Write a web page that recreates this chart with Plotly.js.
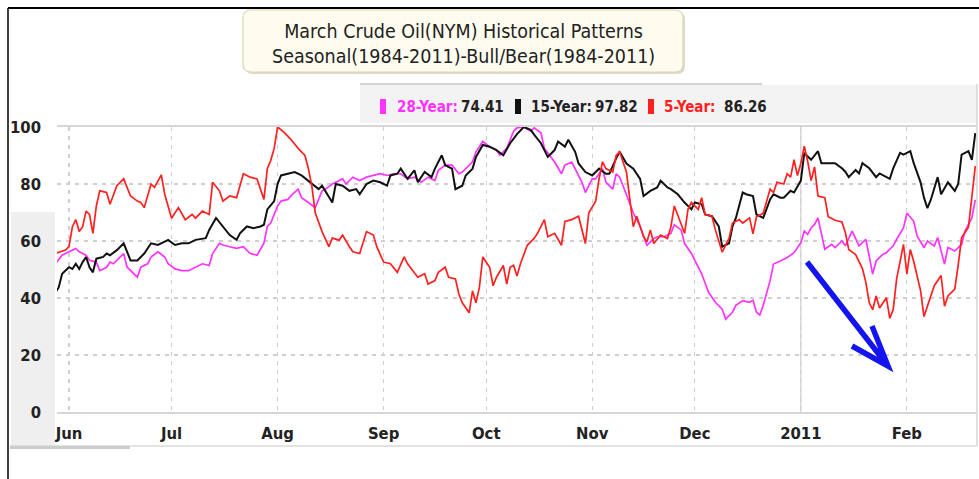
<!DOCTYPE html>
<html><head><meta charset="utf-8">
<script src="https://cdn.plot.ly/plotly-3.0.1.min.js"></script>
<style>html,body{margin:0;padding:0;background:#fff;}#chart{width:979px;height:479px;}</style>
</head><body><div id="chart"></div>
<script>
// ---- data ----
const y28Dates = ['2010-05-28','2010-05-30','2010-06-01','2010-06-03','2010-06-04','2010-06-06','2010-06-07','2010-06-09','2010-06-10','2010-06-12','2010-06-13','2010-06-14','2010-06-16','2010-06-17','2010-06-18','2010-06-21','2010-06-22','2010-06-24','2010-06-25','2010-06-27','2010-06-29','2010-06-30','2010-07-02','2010-07-04','2010-07-06','2010-07-08','2010-07-10','2010-07-12','2010-07-13','2010-07-15','2010-07-16','2010-07-18','2010-07-20','2010-07-22','2010-07-24','2010-07-26','2010-07-28','2010-07-29','2010-07-30','2010-08-01','2010-08-02','2010-08-04','2010-08-05','2010-08-07','2010-08-08','2010-08-10','2010-08-12','2010-08-13','2010-08-14','2010-08-15','2010-08-17','2010-08-20','2010-08-21','2010-08-23','2010-08-25','2010-08-27','2010-08-29','2010-08-31','2010-09-02','2010-09-04','2010-09-06','2010-09-08','2010-09-10','2010-09-12','2010-09-14','2010-09-16','2010-09-17','2010-09-19','2010-09-21','2010-09-23','2010-09-24','2010-09-27','2010-09-28','2010-09-30','2010-10-02','2010-10-04','2010-10-05','2010-10-07','2010-10-09','2010-10-10','2010-10-12','2010-10-14','2010-10-15','2010-10-17','2010-10-18','2010-10-20','2010-10-21','2010-10-23','2010-10-24','2010-10-26','2010-10-27','2010-10-29','2010-10-30','2010-11-01','2010-11-02','2010-11-04','2010-11-05','2010-11-07','2010-11-08','2010-11-09','2010-11-10','2010-11-12','2010-11-13','2010-11-15','2010-11-16','2010-11-17','2010-11-19','2010-11-20','2010-11-22','2010-11-24','2010-11-25','2010-11-27','2010-11-28','2010-11-30','2010-12-01','2010-12-03','2010-12-05','2010-12-07','2010-12-09','2010-12-10','2010-12-12','2010-12-13','2010-12-15','2010-12-17','2010-12-18','2010-12-19','2010-12-20','2010-12-21','2010-12-23','2010-12-24','2010-12-26','2010-12-28','2010-12-30','2011-01-01','2011-01-02','2011-01-03','2011-01-04','2011-01-05','2011-01-06','2011-01-07','2011-01-08','2011-01-10','2011-01-11','2011-01-13','2011-01-14','2011-01-16','2011-01-17','2011-01-18','2011-01-20','2011-01-21','2011-01-22','2011-01-23','2011-01-25','2011-01-26','2011-01-28','2011-01-29','2011-01-31','2011-02-01','2011-02-03','2011-02-04','2011-02-06','2011-02-07','2011-02-09','2011-02-10','2011-02-12','2011-02-13','2011-02-15','2011-02-16','2011-02-17','2011-02-18','2011-02-20','2011-02-21'];
const y28Values = [52,55,56.2,57.4,56.2,55,53.2,52.6,49.6,50.8,52.6,52,54.4,55.6,50.8,47.3,50.8,52,54.4,56.2,54.4,52,50.2,49.6,49.6,50.8,52,51.4,55.6,59.2,58.6,58,57.4,58,55.6,55,59.2,65.1,66.3,72.3,74,74.6,76,78.2,75.2,73.5,71.7,74.6,77.6,78.2,80,81.8,80,82.4,81.2,82.4,83,83.6,83,83.6,83.6,81.8,82.4,80.6,82.4,81.2,84.8,86.6,86.6,83.6,84.2,87.8,91.3,94.9,93.1,91.9,90.1,92.5,98.5,99.7,100,98.5,99.7,98,92.5,89.5,87.7,83.6,86.6,87.7,85.4,80.6,77,81.8,81.8,85.4,80.6,78.2,83.6,82.4,79.4,73.5,69.9,65.1,62.1,58.5,60.9,61.5,61.5,62.7,65.7,63.9,59.1,55.6,53.2,48.5,42,38.5,36.1,32.6,35,37.4,39.1,38.5,39.2,35.1,34,37.5,46.1,51.9,53,54.2,55.9,59.4,63.5,62.3,64.6,65.8,68.1,62.3,57.1,58.8,57.7,60,58.3,63.5,60.6,58.3,60.6,54.2,48.4,53,55.4,55.9,58.3,60.6,64.6,69.8,66.9,61.7,57.7,60,58.3,61.2,51.9,57.7,56.5,57.7,58.8,63.5,68.1,74.41];

const y15Dates = ['2010-05-28','2010-05-29','2010-05-30','2010-06-01','2010-06-02','2010-06-03','2010-06-04','2010-06-05','2010-06-06','2010-06-07','2010-06-08','2010-06-09','2010-06-11','2010-06-12','2010-06-13','2010-06-15','2010-06-17','2010-06-18','2010-06-19','2010-06-21','2010-06-23','2010-06-25','2010-06-27','2010-06-29','2010-06-30','2010-07-02','2010-07-04','2010-07-06','2010-07-08','2010-07-11','2010-07-12','2010-07-14','2010-07-16','2010-07-18','2010-07-20','2010-07-21','2010-07-23','2010-07-25','2010-07-27','2010-07-28','2010-07-29','2010-07-31','2010-08-01','2010-08-02','2010-08-04','2010-08-06','2010-08-08','2010-08-10','2010-08-12','2010-08-13','2010-08-14','2010-08-16','2010-08-17','2010-08-18','2010-08-20','2010-08-22','2010-08-24','2010-08-25','2010-08-27','2010-08-29','2010-08-31','2010-09-02','2010-09-03','2010-09-05','2010-09-06','2010-09-08','2010-09-10','2010-09-11','2010-09-13','2010-09-15','2010-09-16','2010-09-18','2010-09-19','2010-09-21','2010-09-22','2010-09-24','2010-09-25','2010-09-27','2010-09-28','2010-09-30','2010-10-02','2010-10-04','2010-10-06','2010-10-08','2010-10-10','2010-10-12','2010-10-14','2010-10-15','2010-10-17','2010-10-19','2010-10-21','2010-10-22','2010-10-24','2010-10-25','2010-10-27','2010-10-28','2010-10-30','2010-11-01','2010-11-03','2010-11-05','2010-11-06','2010-11-08','2010-11-09','2010-11-11','2010-11-13','2010-11-15','2010-11-16','2010-11-18','2010-11-20','2010-11-21','2010-11-23','2010-11-24','2010-11-26','2010-11-28','2010-11-30','2010-12-01','2010-12-03','2010-12-04','2010-12-06','2010-12-08','2010-12-09','2010-12-11','2010-12-12','2010-12-13','2010-12-15','2010-12-16','2010-12-18','2010-12-19','2010-12-20','2010-12-21','2010-12-23','2010-12-24','2010-12-26','2010-12-27','2010-12-29','2010-12-30','2011-01-01','2011-01-02','2011-01-04','2011-01-06','2011-01-07','2011-01-09','2011-01-11','2011-01-13','2011-01-14','2011-01-15','2011-01-17','2011-01-18','2011-01-19','2011-01-21','2011-01-23','2011-01-24','2011-01-27','2011-01-28','2011-01-30','2011-01-31','2011-02-02','2011-02-03','2011-02-05','2011-02-06','2011-02-07','2011-02-08','2011-02-10','2011-02-11','2011-02-13','2011-02-15','2011-02-16','2011-02-17','2011-02-19','2011-02-20','2011-02-21'];
const y15Values = [41.9,43.7,48.5,50.8,50.2,52,50.2,52.6,54.4,50.8,49,53.8,54.4,55.6,55,56.8,59.2,56.2,53.2,53.2,55.6,59.2,58.6,59.8,60.4,58.6,59.2,59.2,60.4,61,63.9,68.1,65.1,62.1,60.4,62.7,65.1,64.5,65.1,65.7,71.1,74,80,83,83.6,84.2,83,81.2,79.4,78.2,79.4,75.2,73.5,80,79.4,77.6,78.2,76.4,80,81.2,80.6,79.4,83,83.6,85.4,81.8,84.8,80.6,84.2,82.4,85.4,90.1,86.6,85.4,78.2,79.4,83,85.4,89.5,93.7,93.1,91.9,90.1,94.3,97.5,100,99,97.3,94.3,89.5,91.9,94.9,93.1,95.5,91.3,87.2,84.2,83,85.4,83.6,83.6,89,91.3,87.2,85.4,81.8,75.8,77.6,78.8,81.2,78.8,78.2,76.4,73.5,71.1,73.5,72.9,69.3,68.7,65.1,58,59.2,65.1,68.1,77,76.4,75.8,69.3,68.7,68.1,74.6,76.4,75.2,75.2,77.6,77,81.2,90.9,88.5,91.5,87.3,87.3,87.3,85.5,84.3,82.4,84.9,83.7,87.3,85.5,82.4,83.7,81.8,85.5,90.9,90.3,91.5,87.3,80.6,75.2,71.5,74.5,82.4,76.4,80.6,77.6,80,90.3,91.5,88.5,97.82];

const y5Dates = ['2010-05-28','2010-05-31','2010-06-01','2010-06-02','2010-06-03','2010-06-04','2010-06-05','2010-06-06','2010-06-07','2010-06-08','2010-06-09','2010-06-10','2010-06-12','2010-06-13','2010-06-15','2010-06-17','2010-06-19','2010-06-21','2010-06-22','2010-06-23','2010-06-25','2010-06-26','2010-06-28','2010-06-29','2010-07-01','2010-07-03','2010-07-05','2010-07-07','2010-07-08','2010-07-10','2010-07-12','2010-07-13','2010-07-15','2010-07-16','2010-07-18','2010-07-20','2010-07-22','2010-07-24','2010-07-26','2010-07-28','2010-07-29','2010-07-30','2010-07-31','2010-08-01','2010-08-03','2010-08-05','2010-08-07','2010-08-09','2010-08-10','2010-08-11','2010-08-12','2010-08-13','2010-08-14','2010-08-16','2010-08-17','2010-08-19','2010-08-20','2010-08-22','2010-08-23','2010-08-25','2010-08-27','2010-08-29','2010-08-30','2010-09-01','2010-09-03','2010-09-05','2010-09-07','2010-09-08','2010-09-11','2010-09-13','2010-09-14','2010-09-16','2010-09-17','2010-09-19','2010-09-20','2010-09-22','2010-09-23','2010-09-24','2010-09-26','2010-09-27','2010-09-28','2010-09-29','2010-09-30','2010-10-02','2010-10-03','2010-10-04','2010-10-06','2010-10-07','2010-10-08','2010-10-09','2010-10-10','2010-10-11','2010-10-13','2010-10-15','2010-10-16','2010-10-18','2010-10-19','2010-10-21','2010-10-23','2010-10-24','2010-10-26','2010-10-28','2010-10-30','2010-10-31','2010-11-02','2010-11-03','2010-11-04','2010-11-05','2010-11-07','2010-11-08','2010-11-09','2010-11-11','2010-11-12','2010-11-13','2010-11-14','2010-11-16','2010-11-17','2010-11-18','2010-11-19','2010-11-21','2010-11-23','2010-11-24','2010-11-25','2010-11-27','2010-11-28','2010-11-29','2010-11-30','2010-12-02','2010-12-03','2010-12-04','2010-12-06','2010-12-07','2010-12-09','2010-12-11','2010-12-12','2010-12-14','2010-12-15','2010-12-17','2010-12-18','2010-12-19','2010-12-21','2010-12-23','2010-12-24','2010-12-25','2010-12-27','2010-12-28','2010-12-29','2010-12-30','2010-12-31','2011-01-01','2011-01-02','2011-01-03','2011-01-04','2011-01-05','2011-01-06','2011-01-08','2011-01-09','2011-01-11','2011-01-13','2011-01-14','2011-01-15','2011-01-17','2011-01-19','2011-01-20','2011-01-21','2011-01-22','2011-01-23','2011-01-24','2011-01-26','2011-01-27','2011-01-28','2011-01-29','2011-01-31','2011-02-01','2011-02-02','2011-02-03','2011-02-05','2011-02-06','2011-02-08','2011-02-09','2011-02-11','2011-02-12','2011-02-13','2011-02-15','2011-02-16','2011-02-17','2011-02-19','2011-02-20','2011-02-21'];
const y5Values = [55.6,56.8,58,65,67.5,63.3,65,70.5,69.3,62.7,72.3,77.6,77,72.9,79.4,81.8,75.8,74,73.5,71.7,80,78.8,83.2,76.4,68,71.7,67.5,69.3,68,70.5,69.3,80.6,77.6,74,75.8,75.2,83.6,82.4,81.8,74.6,85.4,88.3,92.5,100,98,95.5,92.5,90,85.4,79.4,69.9,66.3,63.3,58,61,60.3,62.1,58,56.2,55.6,63.3,62.1,58,52.6,52,49,54.4,52,47.3,48.5,44.9,46.1,49,50.8,47.3,46.7,41.4,38.3,34.8,42.5,38.3,43.7,54.4,50.8,44.3,47.3,51.4,44.9,50.8,51.5,47.7,52,58.5,60.9,62.7,67.5,61.5,62.7,58.5,66.9,67.5,68.7,59.1,69.9,74,81.8,87.8,85.4,84.2,90,91.3,84.2,73.5,65,68.7,61.5,59.7,63.9,59.1,62.1,60.9,65,72.3,66.3,62.7,71.1,73.5,71.1,75.2,69.3,68.7,63.9,56.1,60.9,66.3,67.5,66.3,68.1,62.5,68.5,69.7,78.2,77,80.6,80,83.6,82.4,88.5,83,87.3,93.3,87.9,81.2,86,75.8,75.2,68.5,67.3,66.7,63,57,55.2,50.3,45.5,38.3,35.9,40.7,36.5,40.1,32.9,35.9,46.7,58.8,48.5,57,52.8,42.6,33.5,40.7,44.3,47.9,37.1,40.7,43.1,51.5,61.2,64.8,75.8,86.26];

const seriesNames = ['28-Year','15-Year','5-Year'];
const seriesLast = ['74.41','97.82','86.26'];
const seriesColors = ['#ff33ff','#111111','#ff2020'];
const tickDates = ['2010-06-01','2010-07-01','2010-08-01','2010-09-01','2010-10-01','2010-11-01','2010-12-01','2011-01-01','2011-02-01'];
const tickLabels = ['Jun','Jul','Aug','Sep','Oct','Nov','Dec','2011','Feb'];
const titleLines = ['March Crude Oil(NYM) Historical Patterns','Seasonal(1984-2011)-Bull/Bear(1984-2011)'];

// ---- layout geometry (pixels) ----
const W = 979, H = 479, PL = 57, PR = 977, PT = 127, PB = 412;
const fx = x => (x - PL) / (PR - PL);
const fy = y => (PB - y) / (PB - PT);
const NARROW = 'Liberation Sans Narrow, DejaVu Sans Condensed, Arial Narrow, sans-serif';

function pline(x0, y0, x1, y1, color, width) {
  return {type:'line', xref:'paper', yref:'paper', x0:fx(x0), y0:fy(y0), x1:fx(x1), y1:fy(y1), line:{color:color, width:width}, layer:'above'};
}
function prect(x0, y0, x1, y1, fill, layer) {
  return {type:'rect', xref:'paper', yref:'paper', x0:fx(x0), y0:fy(y0), x1:fx(x1), y1:fy(y1), fillcolor:fill, line:{width:0}, layer:layer || 'above'};
}
function roundRect(x0, y0, x1, y1, r) {
  const P = (x, y) => fx(x) + ',' + fy(y);
  return 'M' + P(x0 + r, y0) + ' L' + P(x1 - r, y0) + ' Q' + P(x1, y0) + ' ' + P(x1, y0 + r) +
    ' L' + P(x1, y1 - r) + ' Q' + P(x1, y1) + ' ' + P(x1 - r, y1) +
    ' L' + P(x0 + r, y1) + ' Q' + P(x0, y1) + ' ' + P(x0, y1 - r) +
    ' L' + P(x0, y0 + r) + ' Q' + P(x0, y0) + ' ' + P(x0 + r, y0) + ' Z';
}

const traces = [
  {x:y28Dates, y:y28Values, name:seriesNames[0], type:'scatter', mode:'lines', line:{color:seriesColors[0], width:1.7}},
  {x:y15Dates, y:y15Values, name:seriesNames[1], type:'scatter', mode:'lines', line:{color:seriesColors[1], width:2}},
  {x:y5Dates, y:y5Values, name:seriesNames[2], type:'scatter', mode:'lines', line:{color:seriesColors[2], width:1.7}}
];

const shapes = [
  // outer black border (top, left)
  pline(8, 8, 979, 8, '#000', 2),
  pline(8, 8, 8, 479, '#000', 1.5),
  // chart frame
  prect(11, 212, 55, 446, '#efefef', 'below'),
  pline(10, 446, 977, 446, '#dadada', 1.5),
  prect(10, 446, 130, 449, '#cccccc'),
  pline(977, 84, 977, 446, '#d6d6d6', 1.5),
  // legend strip
  prect(360, 85, 977, 123, '#f3f3f3', 'below'),
  pline(360, 84, 762, 84, '#d4d4d4', 2),
  // 2011 solid gridline
  {type:'line', xref:'x', yref:'y', x0:tickDates[7], x1:tickDates[7], y0:0, y1:100, line:{color:'#cfcfcf', width:1.2}, layer:'below'},
  // title box (shadow + box)
  {type:'path', xref:'paper', yref:'paper', path:roundRect(245, 12, 685, 74, 8), fillcolor:'rgba(150,130,80,0.3)', line:{width:0}, layer:'above'},
  {type:'path', xref:'paper', yref:'paper', path:roundRect(243, 10, 683, 72, 8), fillcolor:'#fefcee', line:{color:'#ddd6b8', width:1.2}, layer:'above'},
  // legend squares
  prect(380, 99, 386, 114, seriesColors[0]),
  prect(515, 99, 521, 114, seriesColors[1]),
  prect(648, 99, 654, 114, seriesColors[2]),
  // blue hand-drawn arrow
  {type:'path', xref:'paper', yref:'paper',
   path:'M' + fx(807) + ',' + fy(262) + ' L' + fx(888) + ',' + fy(366) + ' M' + fx(872) + ',' + fy(326) + ' L' + fx(888) + ',' + fy(366) + ' L' + fx(852) + ',' + fy(346),
   line:{color:'#1414f0', width:5.5}, layer:'above'}
];

const legendFont = (c) => ({family:NARROW, size:15, color:c, weight:'bold'});
const annotations = [
  {xref:'paper', yref:'paper', x:fx(463), y:fy(43.5), xanchor:'center', yanchor:'middle', showarrow:false,
   text:titleLines.join('<br>'), align:'center', font:{family:NARROW, size:19.5, color:'#222'}},
  {xref:'paper', yref:'paper', x:fx(395), y:fy(107), xanchor:'left', yanchor:'middle', showarrow:false, text:seriesNames[0] + ':', font:legendFont(seriesColors[0])},
  {xref:'paper', yref:'paper', x:fx(459), y:fy(107), xanchor:'left', yanchor:'middle', showarrow:false, text:seriesLast[0], font:legendFont('#222')},
  {xref:'paper', yref:'paper', x:fx(529), y:fy(107), xanchor:'left', yanchor:'middle', showarrow:false, text:seriesNames[1] + ':', font:legendFont('#222')},
  {xref:'paper', yref:'paper', x:fx(593), y:fy(107), xanchor:'left', yanchor:'middle', showarrow:false, text:seriesLast[1], font:legendFont('#222')},
  {xref:'paper', yref:'paper', x:fx(662), y:fy(107), xanchor:'left', yanchor:'middle', showarrow:false, text:seriesNames[2] + ':', font:legendFont(seriesColors[2])},
  {xref:'paper', yref:'paper', x:fx(722), y:fy(107), xanchor:'left', yanchor:'middle', showarrow:false, text:seriesLast[2], font:legendFont('#222')}
];

const layout = {
  width:W, height:H,
  margin:{l:PL, r:W - PR, t:PT, b:H - PB, pad:0},
  paper_bgcolor:'#ffffff', plot_bgcolor:'#ffffff',
  showlegend:false,
  xaxis:{type:'date', range:['2010-05-28 12:00','2011-02-21 12:00'], tickvals:tickDates, ticktext:tickLabels,
         showgrid:true, gridcolor:'#cfcfcf', gridwidth:1.2, griddash:'4px,5px',
         showline:true, linecolor:'#d6d6d6', linewidth:2, mirror:true, zeroline:false,
         ticks:'', ticklabelstandoff:5, automargin:false,
         tickfont:{family:NARROW, size:16.5, color:'#222', weight:'bold'}},
  yaxis:{range:[0,100], tickvals:[0,20,40,60,80,100], showgrid:true, gridcolor:'#cfcfcf', gridwidth:1.2, griddash:'4px,5px',
         showline:false, zeroline:false, ticks:'', ticklabelstandoff:15, automargin:false, fixedrange:true,
         tickfont:{family:NARROW, size:16.5, color:'#222', weight:'bold'}},
  shapes:shapes, annotations:annotations
};

Plotly.newPlot('chart', traces, layout, {staticPlot:true, displayModeBar:false});
</script></body></html>
